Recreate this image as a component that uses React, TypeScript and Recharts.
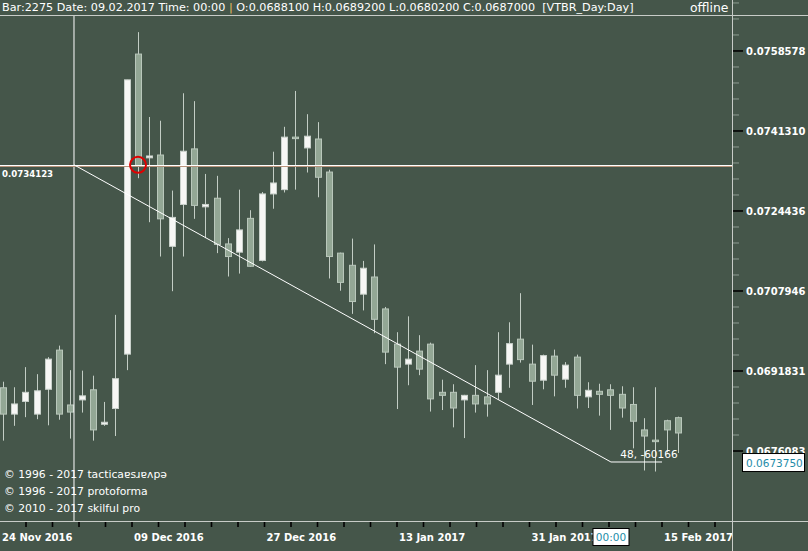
import React from 'react';
import { ComposedChart, Bar, XAxis, YAxis, ReferenceLine, ReferenceDot } from 'recharts';

// daily candles, 24 Nov 2016 .. 17 Feb 2017
const OPEN = [
  0.06885, 0.06833, 0.06858, 0.06833, 0.06882, 0.0696, 0.06851, 0.06861, 0.06881, 0.06813,
  0.06844, 0.06952, 0.07579, 0.07356, 0.07362, 0.07171, 0.07258, 0.07375, 0.07253, 0.07271,
  0.07176, 0.07159, 0.07229, 0.07142, 0.0728, 0.07289, 0.074, 0.07377, 0.07396, 0.07326,
  0.07157, 0.07132, 0.07073, 0.07108, 0.07043, 0.06972, 0.06932, 0.06958, 0.06972, 0.06876,
  0.06876, 0.06861, 0.0687, 0.06867, 0.06876, 0.06932, 0.06982, 0.06932, 0.069, 0.06948,
  0.06902, 0.06946, 0.06867, 0.06878, 0.06881, 0.06872, 0.06852, 0.06802, 0.06782, 0.0682,
  0.06826,
];
const HIGH = [
  0.06897, 0.06886, 0.06926, 0.06912, 0.06946, 0.06969, 0.0692, 0.06919, 0.06909, 0.06857,
  0.07031, 0.07523, 0.07627, 0.07443, 0.07435, 0.07287, 0.07494, 0.07477, 0.07322, 0.07318,
  0.07188, 0.07289, 0.07246, 0.07284, 0.07369, 0.07422, 0.07499, 0.07449, 0.07432, 0.07331,
  0.07158, 0.07187, 0.07141, 0.07175, 0.07047, 0.06996, 0.07028, 0.0699, 0.06975, 0.06901,
  0.06892, 0.06871, 0.0693, 0.0692, 0.06996, 0.07016, 0.07075, 0.06971, 0.06951, 0.06961,
  0.06936, 0.06951, 0.06896, 0.06893, 0.06892, 0.06888, 0.06886, 0.06825, 0.06886, 0.06822,
  0.06828,
];
const LOW = [
  0.06781, 0.0681, 0.06827, 0.06823, 0.06811, 0.06822, 0.06785, 0.06836, 0.06781, 0.0681,
  0.0679, 0.0692, 0.07313, 0.07221, 0.0715, 0.07079, 0.0715, 0.07228, 0.07188, 0.07157,
  0.07109, 0.07115, 0.07129, 0.0714, 0.07249, 0.07283, 0.07289, 0.07325, 0.07273, 0.07105,
  0.0708, 0.07033, 0.0704, 0.06994, 0.06932, 0.06843, 0.0689, 0.0691, 0.06838, 0.06841,
  0.06807, 0.06786, 0.06836, 0.06828, 0.06861, 0.06885, 0.06935, 0.06851, 0.06882, 0.06868,
  0.06885, 0.06844, 0.06845, 0.0683, 0.06802, 0.06826, 0.06766, 0.06723, 0.06721, 0.06758,
  0.06757,
];
const CLOSE = [
  0.06833, 0.06853, 0.06876, 0.06879, 0.06942, 0.06833, 0.06837, 0.06869, 0.06802, 0.06817,
  0.06903, 0.07523, 0.0734, 0.0736, 0.07228, 0.07231, 0.0737, 0.07256, 0.07258, 0.07175,
  0.0715, 0.07205, 0.0713, 0.0728, 0.07303, 0.074, 0.07397, 0.07402, 0.07315, 0.0715,
  0.07097, 0.07058, 0.07126, 0.07022, 0.06956, 0.06926, 0.06942, 0.06922, 0.06863, 0.0687,
  0.06845, 0.0687, 0.06853, 0.06853, 0.0691, 0.06973, 0.06941, 0.06898, 0.06949, 0.0691,
  0.0693, 0.0687, 0.0688, 0.06872, 0.0687, 0.06845, 0.06819, 0.0679, 0.0678, 0.06802,
  0.06796,
];

const DATE_LABELS = ['24 Nov 2016', '09 Dec 2016', '27 Dec 2016', '13 Jan 2017', '31 Jan 2017', '15 Feb 2017'];
const LABEL_BARS = [-0.2667, 11.467, 23.244, 35.022, 46.8, 58.578];
const PRICE_TICKS = [0.0676083, 0.0691831, 0.0707946, 0.0724436, 0.074131, 0.0758578];
const LAST_PRICE = 0.067375;
const CROSS_PRICE = 0.0734123;
const CROSS_BAR = 6.31;
const CURSOR_BAR = 54;
const CIRCLE_BAR = 12;
const TREND_START = { x: 6.31, y: 0.0734123 };
const TREND_END = { x: 54.04, y: 0.067395 };
const TREND_TAIL = { x: 58.58, y: 0.067395 };
const TREND_TEXT = '48, -60166';

const X_DOMAIN = [-0.2667, 64.889];
const Y_DOMAIN = [0.06626, 0.076625];

const BG = '#45564A';
const DOWN_FILL = '#93A795';
const DOWN_EDGE = '#B9C7BB';
const UP_FILL = '#F7F7F5';
const UP_EDGE = '#C9D1CB';
const WICK = '#C3CDC5';
const LINE = '#C8CCC8';
const TEAL = '#1E8CA8';
const FONT = '"DejaVu Sans", sans-serif';

const data = OPEN.map((o, i) => ({
  idx: i,
  open: o,
  high: HIGH[i],
  low: LOW[i],
  close: CLOSE[i],
  range: [LOW[i], HIGH[i]],
}));

// minor ticks sit on a fixed pixel grid (26.5px), one bar = 11.25px
const MINOR_BARS = Array.from({ length: 27 }, (_, k) => (23 + 26.5 * k) / 11.25);
const X_TICKS = [LABEL_BARS[0], ...MINOR_BARS, CURSOR_BAR];

const Candle = (props: any) => {
  const { x, y, width, height, payload } = props;
  const top = Math.min(y, y + height);
  const bot = Math.max(y, y + height);
  const lh = Math.log(payload.high);
  const ll = Math.log(payload.low);
  const span = lh - ll || 1;
  const py = (v: number) => top + ((bot - top) * (lh - Math.log(v))) / span;
  const cx = Math.round(x + width / 2) + 0.5;
  const yo = py(payload.open);
  const yc = py(payload.close);
  const up = payload.close >= payload.open;
  const bTop = Math.min(yo, yc);
  const bH = Math.max(Math.abs(yo - yc), 1.5);
  return (
    <g>
      <line x1={cx} x2={cx} y1={top} y2={bot} stroke={WICK} strokeWidth={1} />
      <rect
        x={cx - 3}
        y={bTop}
        width={6}
        height={bH}
        fill={up ? UP_FILL : DOWN_FILL}
        stroke={up ? UP_EDGE : DOWN_EDGE}
        strokeWidth={1}
      />
    </g>
  );
};

const PriceTick = (props: any) => {
  const { x, y, payload } = props;
  const v = payload.value;
  if (v === LAST_PRICE) {
    return (
      <g>
        <rect x={x + 9.5} y={y - 9.5} width={62} height={18} fill="#fff" stroke="#000" />
        <text x={x + 13} y={y + 4} fill={TEAL} fontSize={10.5} fontFamily={FONT}>
          {v.toFixed(7)}
        </text>
      </g>
    );
  }
  return (
    <g>
      {[16, 32, 48, 64].map((d) => (
        <line key={d} x1={x} x2={x + 6} y1={y - d} y2={y - d} stroke="#8E9C92" />
      ))}
      <line x1={x} x2={x + 10} y1={y} y2={y} stroke="#000" strokeWidth={1.6} />
      <text x={x + 13} y={y + 3.6} fill="#fff" fontSize={10} fontWeight="bold" fontFamily={FONT}>
        {v.toFixed(7)}
      </text>
    </g>
  );
};

const DateTick = (props: any) => {
  const { x, y, payload } = props;
  const v = payload.value;
  if (v === CURSOR_BAR) {
    return (
      <g>
        <rect x={x - 17.5} y={y + 7.5} width={36} height={17} fill="#fff" stroke="#000" />
        <text x={x + 0.5} y={y + 20} textAnchor="middle" fill={TEAL} fontSize={10.5} fontFamily={FONT}>
          00:00
        </text>
      </g>
    );
  }
  const li = LABEL_BARS.findIndex((b) => Math.abs(b - v) < 0.01);
  return (
    <g>
      {li !== 0 && <line x1={x} x2={x} y1={y + 1} y2={y + 6} stroke="#000" strokeWidth={1.6} />}
      {li >= 0 && (
        <text x={x + 2} y={y + 20} fill="#fff" fontSize={10} fontWeight="bold" fontFamily={FONT}>
          {DATE_LABELS[li]}
        </text>
      )}
    </g>
  );
};

const CrossLine = (p: any) => {
  const left = Math.min(p.x1, p.x2);
  const right = Math.max(p.x1, p.x2);
  const yy = Math.round(p.y1) + 0.5;
  return (
    <g>
      <line x1={left} x2={right} y1={yy + 1} y2={yy + 1} stroke="#B8927A" />
      <line x1={left} x2={right} y1={yy} y2={yy} stroke="#fff" />
      <text x={left + 2} y={yy + 11.5} fill="#fff" fontSize={8.6} fontWeight="bold" fontFamily={FONT}>
        {CROSS_PRICE.toFixed(7)}
      </text>
    </g>
  );
};

const textStyle: React.CSSProperties = {
  position: 'absolute',
  color: '#fff',
  fontFamily: FONT,
  whiteSpace: 'pre',
  pointerEvents: 'none',
};

export default function App() {
  return (
    <div style={{ position: 'relative', width: 808, height: 551, background: BG, overflow: 'hidden' }}>
      <style>{'body{margin:0}'}</style>
      <ComposedChart
        width={808}
        height={551}
        data={data}
        margin={{ top: 16, right: 0, bottom: 0, left: 0 }}
      >
        <XAxis
          dataKey="idx"
          type="number"
          domain={X_DOMAIN}
          allowDataOverflow
          ticks={X_TICKS}
          interval={0}
          height={30}
          tickSize={0}
          tickMargin={0}
          tickLine={false}
          axisLine={false}
          tick={<DateTick />}
        />
        <YAxis
          orientation="right"
          type="number"
          scale="log"
          domain={Y_DOMAIN}
          allowDataOverflow
          ticks={[...PRICE_TICKS, LAST_PRICE]}
          interval={0}
          width={75}
          tickSize={0}
          tickMargin={0}
          tickLine={false}
          axisLine={false}
          tick={<PriceTick />}
        />
        <Bar dataKey="range" barSize={7} shape={<Candle />} isAnimationActive={false} />
        <ReferenceLine x={CROSS_BAR} stroke="#fff" strokeWidth={1} />
        <ReferenceLine y={CROSS_PRICE} shape={<CrossLine />} />
        <ReferenceLine segment={[TREND_START, TREND_END]} stroke="#fff" strokeWidth={1} />
        <ReferenceLine segment={[TREND_END, TREND_TAIL]} stroke="#fff" strokeWidth={1} />
        <ReferenceDot
          x={57.42}
          y={0.06755}
          r={1}
          fill="none"
          stroke="none"
          label={{ value: TREND_TEXT, position: 'center', fill: '#fff', fontSize: 10.5, fontFamily: FONT }}
        />
        <ReferenceDot x={CIRCLE_BAR} y={CROSS_PRICE} r={8} fill="none" stroke="#E00000" strokeWidth={2} />
      </ComposedChart>

      {/* frame lines */}
      <div style={{ position: 'absolute', left: 0, top: 15, width: 808, height: 1, background: LINE }} />
      <div style={{ position: 'absolute', left: 0, top: 521, width: 808, height: 1, background: LINE }} />
      <div style={{ position: 'absolute', left: 732, top: 0, width: 1, height: 551, background: LINE }} />

      <div style={{ ...textStyle, left: 2, top: 0, fontSize: 11.2, lineHeight: '15px' }}>
        {'Bar:2275 Date: 09.02.2017 Time: 00:00 '}
        <span style={{ color: '#E8C060' }}>|</span>
        {' O:0.0688100 H:0.0689200 L:0.0680200 C:0.0687000  [VTBR_Day:Day]'}
      </div>
      <div style={{ ...textStyle, left: 690, top: 0, fontSize: 12.4, lineHeight: '15px' }}>offline</div>

      <div style={{ ...textStyle, left: 4, top: 466, fontSize: 10.8, lineHeight: '17px' }}>
        {'© 1996 - 2017 tacticaɐsɹɐʌpǝ\n© 1996 - 2017 protoforma\n© 2010 - 2017 skilful pro'}
      </div>
    </div>
  );
}
